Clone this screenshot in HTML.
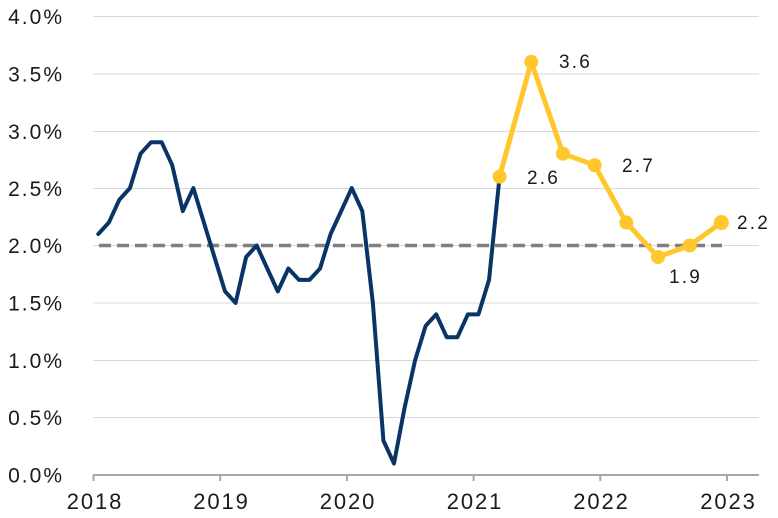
<!DOCTYPE html>
<html><head><meta charset="utf-8"><style>
html,body{margin:0;padding:0;background:#fff;}
svg{display:block;}
text{font-family:"Liberation Sans",sans-serif;fill:#1a1a1a;}
</style></head><body>
<svg width="778" height="518" viewBox="0 0 778 518" xmlns="http://www.w3.org/2000/svg">
<g stroke="#d9d9d9" stroke-width="1">
<line x1="93" y1="16.5" x2="759" y2="16.5"/>
<line x1="93" y1="74" x2="759" y2="74"/>
<line x1="93" y1="131.5" x2="759" y2="131.5"/>
<line x1="93" y1="188.5" x2="759" y2="188.5"/>
<line x1="93" y1="245.5" x2="759" y2="245.5"/>
<line x1="93" y1="303" x2="759" y2="303"/>
<line x1="93" y1="360.5" x2="759" y2="360.5"/>
<line x1="93" y1="417.5" x2="759" y2="417.5"/>
</g>
<g stroke="#a6a6a6" stroke-width="2">
<line x1="93" y1="475" x2="759" y2="475"/>
<line x1="93.5" y1="475" x2="93.5" y2="481"/>
<line x1="220.2" y1="475" x2="220.2" y2="481"/>
<line x1="346.9" y1="475" x2="346.9" y2="481"/>
<line x1="473.6" y1="475" x2="473.6" y2="481"/>
<line x1="600.3" y1="475" x2="600.3" y2="481"/>
<line x1="727" y1="475" x2="727" y2="481"/>
</g>
<g font-size="21" letter-spacing="2" text-anchor="end">
<text x="64" y="24">4.0%</text>
<text x="64" y="81.5">3.5%</text>
<text x="64" y="139">3.0%</text>
<text x="64" y="196">2.5%</text>
<text x="64" y="253">2.0%</text>
<text x="64" y="310.5">1.5%</text>
<text x="64" y="368">1.0%</text>
<text x="64" y="425">0.5%</text>
<text x="64" y="482.5">0.0%</text>
</g>
<g font-size="22" letter-spacing="1.9" text-anchor="middle">
<text x="95" y="509">2018</text>
<text x="221.5" y="509">2019</text>
<text x="348" y="509">2020</text>
<text x="475" y="509">2021</text>
<text x="601.5" y="509">2022</text>
<text x="728.5" y="509">2023</text>
</g>
<line x1="99" y1="245.5" x2="722" y2="245.5" stroke="#7f7f7f" stroke-width="3.6" stroke-dasharray="12 6"/>
<polyline fill="none" stroke="#0b3466" stroke-width="4" stroke-linejoin="round" stroke-linecap="round" points="98.3,234 108.86,222.55 119.42,199.6 129.98,188.1 140.54,153.7 151.1,142.2 161.66,142.2 172.22,165.2 182.78,211.1 193.34,188.1 203.9,222.55 214.46,257 225.02,291.4 235.58,302.9 246.14,257 256.7,245.5 267.26,268.5 277.82,291.4 288.38,268.5 298.94,279.9 309.5,279.9 320.06,268.5 330.62,234 341.18,211.1 351.74,188.1 362.3,211.1 372.86,302.9 383.42,440.6 393.98,463.5 404.54,408 415.1,360.25 425.66,325.8 436.22,314.35 446.78,337.3 457.34,337.3 467.9,314.35 478.46,314.35 489.02,279.9 499.58,176.65"/>
<polyline fill="none" stroke="#ffc72c" stroke-width="5" stroke-linejoin="round" points="499.58,176.65 531.26,61.9 562.94,153.7 594.62,165.2 626.3,222.55 657.98,257 689.66,245.5 721.34,222.55"/>
<g fill="#ffc72c">
<circle cx="499.58" cy="176.65" r="7"/>
<circle cx="531.26" cy="61.9" r="7"/>
<circle cx="562.94" cy="153.7" r="7"/>
<circle cx="594.62" cy="165.2" r="7"/>
<circle cx="626.3" cy="222.55" r="7"/>
<circle cx="657.98" cy="257" r="7"/>
<circle cx="689.66" cy="245.5" r="7"/>
<circle cx="721.34" cy="222.55" r="7.5"/>
</g>
<g font-size="19" letter-spacing="2.2">
<text x="559" y="68">3.6</text>
<text x="527" y="184">2.6</text>
<text x="622" y="172">2.7</text>
<text x="737" y="229">2.2</text>
<text x="669" y="283">1.9</text>
</g>
</svg>
</body></html>
